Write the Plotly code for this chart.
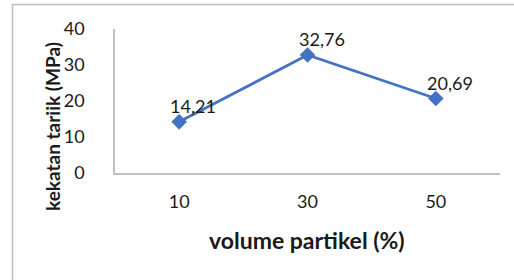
import plotly.graph_objects as go

categories = ["10", "30", "50"]
values = [14.21, 32.76, 20.69]
y_ticks = [0, 10, 20, 30, 40]
x_title = "volume partikel (%)"
y_title = "kekatan tariik (MPa)"

FONT = "Lato, Carlito, Calibri, sans-serif"
BLUE = "#4472C4"
GRAY = "#BFBFBF"
TXT = "#1a1a1a"

W, H = 514, 280
L, R, T, B = 115, 14, 29, 107
pw, ph = W - L - R, H - T - B

def px_x(px):
    return (px - L) / pw

def px_y(py):
    return (H - B - py) / ph

fig = go.Figure()
fig.add_trace(go.Scatter(
    x=categories, y=values, mode="lines+markers",
    line=dict(color=BLUE, width=2.75),
    marker=dict(symbol="diamond", size=12, color=BLUE),
    hoverinfo="skip", showlegend=False,
))

annotations = []
for i, v in enumerate(values):
    annotations.append(dict(
        x=i, y=v, xref="x", yref="y", text=f"{v:.2f}".replace(".", ","),
        showarrow=False, xshift=14, yshift=16,
        font=dict(family=FONT, size=18, color=TXT),
    ))
annotations.append(dict(
    x=px_x(307), y=px_y(240), xref="paper", yref="paper", text=f"<b>{x_title}</b>",
    xanchor="center", yanchor="middle",
    showarrow=False, font=dict(family=FONT, size=23, color=TXT),
))
annotations.append(dict(
    x=px_x(52), y=px_y(127), xref="paper", yref="paper", text=f"<b>{y_title}</b>",
    xanchor="center", yanchor="middle",
    showarrow=False, textangle=-90, font=dict(family=FONT, size=19, color=TXT),
))

border = dict(color=GRAY, width=1.5)
fig.update_layout(
    width=W, height=H,
    margin=dict(l=L, r=R, t=T, b=B),
    paper_bgcolor="white", plot_bgcolor="white",
    annotations=annotations,
    shapes=[
        dict(type="line", xref="paper", yref="paper", x0=px_x(12), x1=px_x(W + 5),
             y0=px_y(4.5), y1=px_y(4.5), line=border, layer="below"),
        dict(type="line", xref="paper", yref="paper", x0=px_x(12.5), x1=px_x(12.5),
             y0=px_y(4), y1=px_y(H + 5), line=border, layer="below"),
    ],
    xaxis=dict(
        type="category", range=[-0.5, 2.5], showline=True, linecolor=GRAY, linewidth=1.5,
        showgrid=False, zeroline=False, ticks="outside", ticklen=12, tickcolor="rgba(0,0,0,0)",
        tickfont=dict(family=FONT, size=18, color=TXT), fixedrange=True,
    ),
    yaxis=dict(
        range=[0, 40], tickvals=y_ticks, showline=True, linecolor=GRAY, linewidth=1.5,
        showgrid=False, zeroline=False, ticks="outside", ticklen=25, tickcolor="rgba(0,0,0,0)",
        tickfont=dict(family=FONT, size=18, color=TXT), fixedrange=True,
    ),
)

fig.write_html("out.html", config={"displayModeBar": False},
               post_script="document.body.style.margin='0';")
